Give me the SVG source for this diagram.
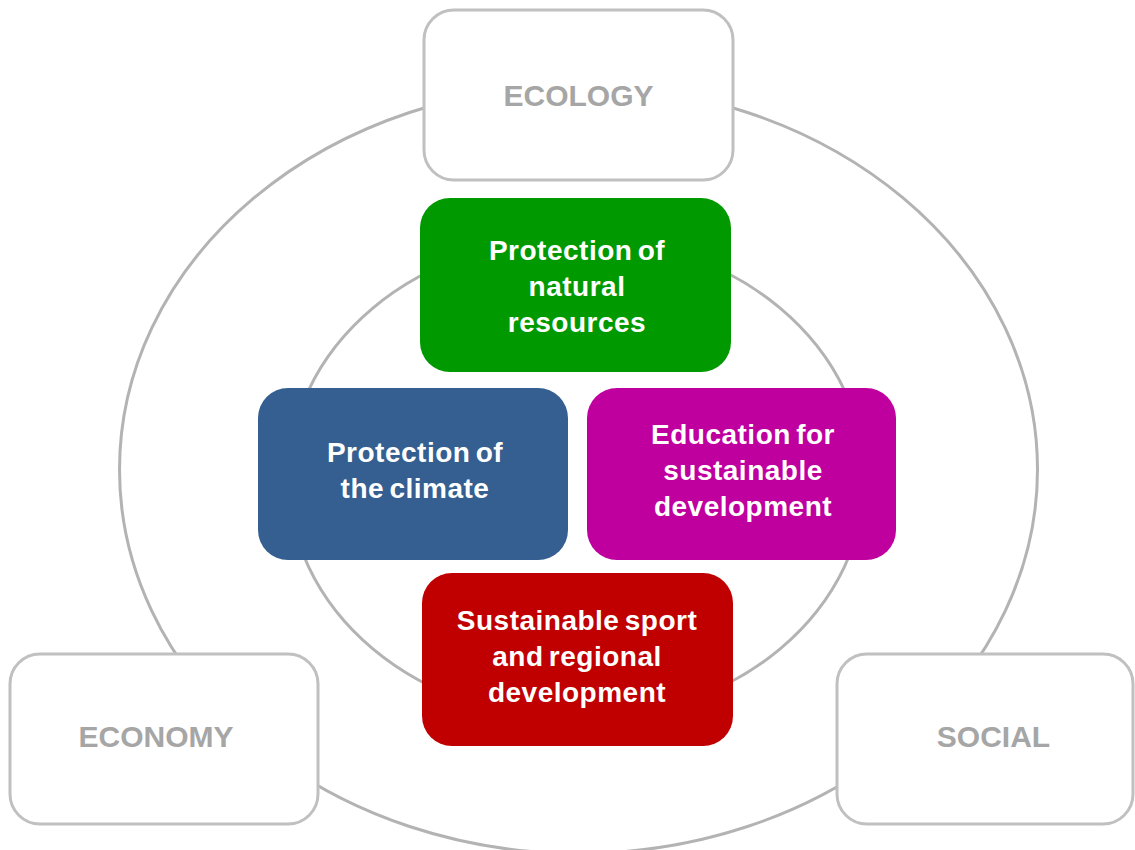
<svg xmlns="http://www.w3.org/2000/svg" width="1135" height="850" viewBox="0 0 1135 850">
  <style>
    .ring { fill: none; stroke: #b3b3b3; stroke-width: 3; }
    .pillar { fill: #ffffff; stroke: #c0c0c0; stroke-width: 3; }
    .pillar-text { font-family: "Liberation Sans", Arial, sans-serif; font-weight: bold; font-size: 30px; fill: #a6a6a6; text-anchor: middle; }
    .goal-text { font-family: "Liberation Sans", Arial, sans-serif; font-weight: bold; font-size: 28px; fill: #ffffff; text-anchor: middle; letter-spacing: 0.5px; word-spacing: -3px; }
  </style>
  <rect width="1135" height="850" fill="#ffffff"/>
  <g id="connectors">
    <ellipse class="ring" cx="578.5" cy="469.5" rx="459" ry="384"/>
    <ellipse class="ring" cx="576.5" cy="478.5" rx="288" ry="241"/>
  </g>
  <g id="ecology">
    <rect class="pillar" x="424" y="10" width="309" height="170" rx="30"/>
    <text class="pillar-text" x="578.5" y="106">ECOLOGY</text>
  </g>
  <g id="economy">
    <rect class="pillar" x="10" y="654" width="308" height="170" rx="30"/>
    <text class="pillar-text" x="156" y="747">ECONOMY</text>
  </g>
  <g id="social">
    <rect class="pillar" x="837" y="654" width="296" height="170" rx="30"/>
    <text class="pillar-text" x="993.5" y="747">SOCIAL</text>
  </g>
  <g id="natural-resources">
    <rect x="420" y="198" width="311" height="174" rx="30" fill="#009a00"/>
    <text class="goal-text" x="577" y="260">Protection of</text>
    <text class="goal-text" x="577" y="296">natural</text>
    <text class="goal-text" x="577" y="332">resources</text>
  </g>
  <g id="climate">
    <rect x="258" y="388" width="310" height="172" rx="30" fill="#355f91"/>
    <text class="goal-text" x="415" y="462">Protection of</text>
    <text class="goal-text" x="415" y="498">the climate</text>
  </g>
  <g id="education">
    <rect x="587" y="388" width="309" height="172" rx="30" fill="#bf009f"/>
    <text class="goal-text" x="743" y="444">Education for</text>
    <text class="goal-text" x="743" y="480">sustainable</text>
    <text class="goal-text" x="743" y="516">development</text>
  </g>
  <g id="sport">
    <rect x="422" y="573" width="311" height="173" rx="30" fill="#c00000"/>
    <text class="goal-text" x="577" y="630">Sustainable sport</text>
    <text class="goal-text" x="577" y="666">and regional</text>
    <text class="goal-text" x="577" y="702">development</text>
  </g>
</svg>
